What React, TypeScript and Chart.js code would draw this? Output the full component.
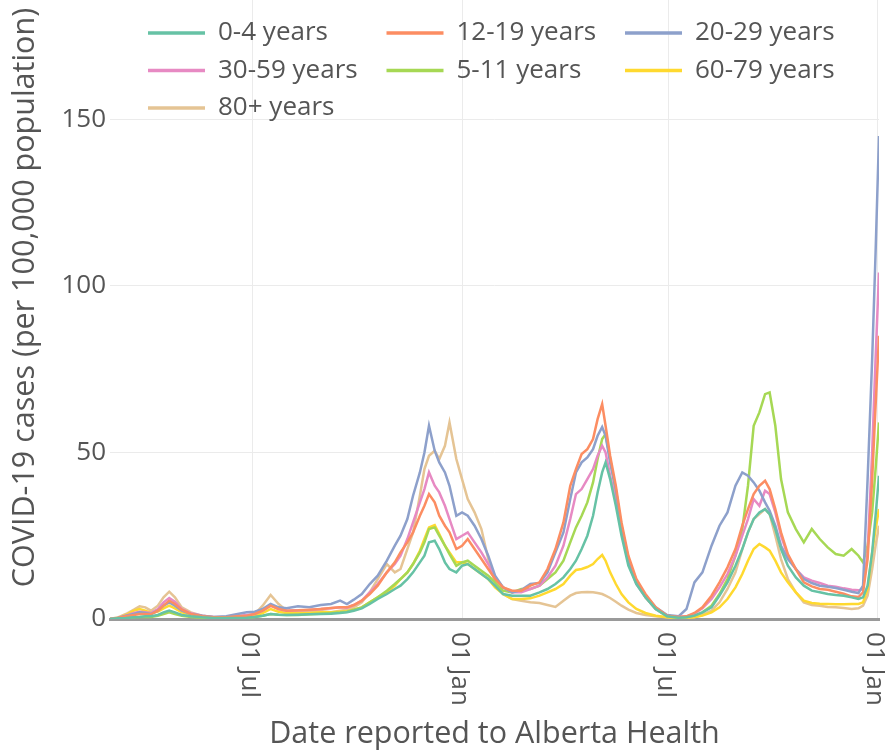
import React, { useEffect, useRef } from 'react';
import { Chart, registerables } from 'chart.js';

Chart.register(...registerables);

const FONT = '"Open Sans", sans-serif';
const TEXT_COLOR = '#555555';

const dates = [
  '2020-02-27', '2020-03-05', '2020-03-12', '2020-03-19', '2020-03-24', '2020-03-29', '2020-04-03', '2020-04-09',
  '2020-04-14', '2020-04-19', '2020-04-24', '2020-04-30', '2020-05-08', '2020-05-18', '2020-05-28', '2020-06-08',
  '2020-06-18', '2020-06-26', '2020-07-03', '2020-07-10', '2020-07-17', '2020-07-24', '2020-07-31', '2020-08-10',
  '2020-08-20', '2020-08-30', '2020-09-08', '2020-09-16', '2020-09-22', '2020-09-28', '2020-10-05', '2020-10-12',
  '2020-10-19', '2020-10-27', '2020-11-03', '2020-11-08', '2020-11-14', '2020-11-19', '2020-11-25', '2020-11-29',
  '2020-12-03', '2020-12-08', '2020-12-12', '2020-12-17', '2020-12-21', '2020-12-27', '2021-01-01', '2021-01-06',
  '2021-01-12', '2021-01-18', '2021-01-24', '2021-01-30', '2021-02-06', '2021-02-14', '2021-02-22', '2021-03-02',
  '2021-03-10', '2021-03-17', '2021-03-24', '2021-03-31', '2021-04-06', '2021-04-11', '2021-04-16', '2021-04-21',
  '2021-04-26', '2021-04-30', '2021-05-04', '2021-05-07', '2021-05-11', '2021-05-16', '2021-05-21', '2021-05-27',
  '2021-06-03', '2021-06-11', '2021-06-20', '2021-06-30', '2021-07-10', '2021-07-17', '2021-07-24', '2021-07-31',
  '2021-08-08', '2021-08-15', '2021-08-22', '2021-08-29', '2021-09-04', '2021-09-09', '2021-09-14', '2021-09-19',
  '2021-09-24', '2021-09-28', '2021-10-03', '2021-10-08', '2021-10-14', '2021-10-21', '2021-10-28', '2021-11-04',
  '2021-11-11', '2021-11-18', '2021-11-25', '2021-12-02', '2021-12-09', '2021-12-15', '2021-12-19', '2021-12-23',
  '2021-12-27', '2021-12-30', '2022-01-02',
];

const age0to4 = [
  0, 0.2, 0.3, 0.5, 0.6, 0.8, 0.8, 1.2, 2, 2.5, 2, 1.2, 0.8, 0.5, 0.3, 0.3,
  0.3, 0.4, 0.6, 1, 1.5, 1.3, 1.2, 1.3, 1.4, 1.5, 1.6, 1.8, 2, 2.5, 3.2, 4.5,
  6, 7.5, 9, 10, 12, 14, 17, 19, 23, 23.5, 21, 17, 15, 14, 16, 16.5,
  15, 13.5, 12, 10, 7.5, 7, 7, 7, 8, 9, 10.5, 12.5, 15, 17.5, 21, 25,
  31, 38, 44, 47, 42, 34, 25, 16, 10.5, 6.5, 3, 0.8, 0.4, 0.5, 1, 2,
  3.5, 7, 11, 16, 21, 26, 30, 32, 33, 31.5, 27, 21, 16, 12.5, 10, 8.5,
  8, 7.5, 7.2, 7, 6.5, 6, 6.5, 10, 20, 31, 43,
];

const age12to19 = [
  0, 0.3, 0.8, 1.2, 1.5, 1.5, 1.4, 2.5, 4, 5.5, 4.5, 2.8, 1.5, 0.8, 0.5, 0.5,
  0.8, 1, 1.5, 2.5, 4, 3, 2.5, 2.6, 2.8, 3, 3.3, 3.5, 3.5, 4.2, 5.5, 7.5,
  10, 14, 17, 20, 23, 26, 31, 34, 37.5, 35, 31, 28, 26, 21, 22, 24,
  21, 18, 15, 12, 9.5, 8.5, 8.5, 10, 11, 15, 21, 29, 40, 45, 49.5, 51,
  54, 60, 64.5, 58, 49, 40, 29, 19, 12, 7.5, 3.5, 1, 0.6, 0.8, 1.8, 3.5,
  7, 11, 15.5, 21, 28, 33, 37.5, 40, 41.5, 39, 33, 26, 19.5, 15, 11, 9.8,
  9, 8.8, 8.2, 7.6, 6.8, 6.6, 8, 18, 42, 64, 85,
];

const age20to29 = [
  0, 0.3, 1, 1.5, 2, 1.8, 1.5, 2.5, 4, 5, 4, 2.5, 1.5, 1, 0.6, 0.8,
  1.5, 2, 2.2, 3, 4.5, 3.5, 3.2, 3.8, 3.5, 4.2, 4.5, 5.5, 4.5, 5.8, 7.5, 10.5,
  13, 17.5, 22, 25, 30, 37, 44, 50, 58, 50.5, 47, 44, 40, 31, 32, 31,
  28, 24, 19, 13, 9.5, 8, 8.7, 10.5, 10.8, 14, 20, 26, 36, 44, 47, 48.5,
  51, 55, 57.6, 55, 47, 39, 27, 17, 11, 7, 3.5, 1.2, 0.8, 3, 11, 14,
  22, 28, 32, 40, 44, 43, 41, 38.5, 35, 32.5, 28, 22, 18, 15, 12, 10.8,
  10, 9.7, 9.3, 8.8, 8.2, 7.8, 10, 42, 78, 110, 145,
];

const age30to59 = [
  0, 0.3, 1, 1.8, 2.2, 2, 1.8, 3, 5, 6.3, 5.2, 3, 1.7, 1, 0.6, 0.6,
  0.9, 1.2, 1.5, 2.5, 4, 3, 2.5, 2.6, 2.7, 3, 3.2, 3.5, 3.4, 4.2, 5.5, 8,
  10.5, 14, 16.5, 19, 24, 29, 35, 39, 44, 40, 38, 34, 30, 24, 25, 26,
  23, 20, 16.5, 12.5, 9.5, 8, 8, 9, 10, 12.5, 16, 22, 30, 37.5, 39, 42,
  45, 49, 52, 50, 43, 36, 26, 17, 10.5, 6.5, 3, 1, 0.6, 0.8, 1.6, 3.2,
  6, 9.5, 13.5, 19, 25, 30, 36, 34, 38.5, 37.5, 32, 25, 19, 15, 12.5, 11.5,
  10.8, 10, 9.7, 9.2, 8.8, 8.6, 9, 20, 50, 78, 104,
];

const age5to11 = [
  0, 0.2, 0.3, 0.5, 0.6, 0.7, 0.6, 1, 1.5, 2, 1.5, 1, 0.6, 0.4, 0.3, 0.3,
  0.3, 0.4, 0.6, 1, 1.5, 1.3, 1.2, 1.2, 1.4, 1.6, 1.8, 2, 2.2, 2.8, 3.5, 5,
  6.5, 8.5, 10.5, 12, 14, 16.5, 20, 23, 27, 27.5, 25, 22, 19.5, 16, 17, 17.5,
  16, 14.5, 13, 11, 8.5, 8, 9, 9, 10, 12, 14, 17.5, 23, 27.5, 31, 35,
  41, 48, 54, 55.5, 48, 38, 28, 18, 11.5, 6.5, 3, 0.8, 0.4, 0.5, 1, 2,
  4, 7.5, 12, 19, 27, 40, 58, 62, 67.5, 68, 58, 42, 32, 27, 23, 27,
  24, 21.5, 19.5, 19, 21, 19, 17, 22, 32, 45, 59,
];

const age60to79 = [
  0, 0.3, 1.2, 2.5, 3, 2.5, 1.8, 2.2, 3.2, 4, 3.2, 2, 1.2, 0.7, 0.4, 0.4,
  0.5, 0.6, 1, 1.8, 3, 2.2, 1.8, 1.8, 1.8, 2, 2, 2.2, 2.3, 2.8, 3.5, 5,
  6.5, 8, 10, 12, 14, 16.5, 20.5, 24, 27.5, 28.2, 25.5, 22, 20, 17, 17, 16.5,
  15, 13.5, 12, 9.5, 7.5, 6, 6, 6.2, 7, 8, 9, 10.5, 13, 14.7, 15, 15.6,
  16.5, 18, 19.2, 17.5, 14, 10.5, 7.5, 5, 3, 1.8, 1, 0.5, 0.3, 0.4, 0.5, 1,
  2, 3.5, 6, 9.5, 13.5, 17.5, 21, 22.5, 21.5, 20.5, 17.5, 14, 11, 8, 5.5, 4.8,
  4.6, 4.5, 4.4, 4.4, 4.5, 4.5, 5, 9, 20, 27, 33,
];

const age80plus = [
  0, 0.5, 1.5, 2.8, 3.8, 3.5, 2.5, 4, 6.5, 8.2, 6.5, 3.5, 2, 1, 0.5, 0.4,
  0.6, 0.8, 1.5, 4, 7.2, 4.5, 2.5, 2, 2.2, 2.4, 2, 2.5, 2.8, 3.5, 5, 8,
  12, 16.5, 14, 15, 21, 26, 37, 45, 49, 50.5, 48, 52, 59, 48, 42, 36,
  32, 27, 18, 11, 7.5, 6, 5.5, 5, 4.8, 4.2, 3.6, 5.5, 7, 7.8, 8, 8.1,
  8, 7.8, 7.5, 7, 6.3, 5.2, 4, 2.8, 1.8, 1.2, 0.8, 0.5, 0.3, 0.4, 0.6, 1.2,
  2.5, 5, 9, 14, 21, 26, 30, 31.5, 33, 31.5, 25, 18, 12, 8, 5, 4.2,
  4, 3.6, 3.5, 3.3, 3, 3.2, 4, 7, 15, 22, 28,
];

const seriesLabels = ['0-4 years', '12-19 years', '20-29 years', '30-59 years', '5-11 years', '60-79 years', '80+ years'];
const seriesValues = [age0to4, age12to19, age20to29, age30to59, age5to11, age60to79, age80plus];
const seriesColors = ['#66c2a5', '#fc8d62', '#8da0cb', '#e78ac3', '#a6d854', '#ffd92f', '#e5c494'];

const xTickDates = ['2020-07-01', '2021-01-01', '2021-07-01', '2022-01-01'];
const xTickLabels = ['01 Jul', '01 Jan', '01 Jul', '01 Jan'];
const yTicks = [0, 50, 100, 150];
const yMax = 193;

const xTitle = 'Date reported to Alberta Health';
const yTitle = 'COVID-19 cases (per 100,000 population)';

const toMs = (d: string) => Date.parse(d + 'T00:00:00Z');

const overlayPlugin = {
  id: 'overlayPlugin',
  afterDraw(chart: any) {
    const { ctx, chartArea } = chart;
    const xScale = chart.scales.x;
    ctx.save();
    // rotated x tick labels (clockwise)
    ctx.font = `26px ${FONT}`;
    ctx.fillStyle = TEXT_COLOR;
    ctx.textAlign = 'left';
    ctx.textBaseline = 'middle';
    xTickDates.forEach((d, i) => {
      const x = xScale.getPixelForValue(toMs(d));
      ctx.save();
      ctx.translate(x - 3, chartArea.bottom + 13);
      ctx.rotate(Math.PI / 2);
      ctx.fillText(xTickLabels[i], 0, 0);
      ctx.restore();
    });
    // legend in a 3-column grid inside the plot
    chart.data.datasets.forEach((ds: any, i: number) => {
      const col = i % 3;
      const row = Math.floor(i / 3);
      const x0 = chartArea.left + 38 + col * 238.5;
      const y = chartArea.top + 57 + row * 37.5;
      ctx.strokeStyle = ds.borderColor;
      ctx.lineWidth = 3.5;
      ctx.beginPath();
      ctx.moveTo(x0, y);
      ctx.lineTo(x0 + 57, y);
      ctx.stroke();
      ctx.fillStyle = TEXT_COLOR;
      ctx.fillText(ds.label, x0 + 70, y);
    });
    ctx.restore();
  },
};

export default function App() {
  const canvasRef = useRef<HTMLCanvasElement | null>(null);

  useEffect(() => {
    const canvas = canvasRef.current;
    if (!canvas) return;
    const chart = new Chart(canvas, {
      type: 'line',
      data: {
        datasets: seriesValues.map((vals, i) => ({
          label: seriesLabels[i],
          data: dates.map((d, j) => ({ x: toMs(d), y: vals[j] })),
          borderColor: seriesColors[i],
          backgroundColor: seriesColors[i],
          borderWidth: 2.5,
          pointRadius: 0,
          tension: 0,
          fill: false,
        })),
      },
      options: {
        responsive: false,
        animation: false,
        devicePixelRatio: 1,
        layout: { padding: { left: 0, right: 6, top: 0, bottom: 0 } },
        plugins: { legend: { display: false }, tooltip: { enabled: false } },
        scales: {
          x: {
            type: 'linear',
            min: toMs(dates[0]),
            max: toMs(dates[dates.length - 1]),
            afterBuildTicks: (s: any) => {
              s.ticks = xTickDates.map((d) => ({ value: toMs(d) }));
            },
            ticks: { display: false },
            grid: { color: '#ebebeb', lineWidth: 1, drawTicks: false },
            border: { display: true, color: '#9a9a9a', width: 3 },
            title: {
              display: true,
              text: xTitle,
              color: TEXT_COLOR,
              font: { family: FONT, size: 30.5 },
              padding: { top: 0, bottom: 0 },
            },
            afterFit: (s: any) => {
              s.height = 134;
              s.paddingLeft = 0;
              s.paddingRight = 0;
            },
          },
          y: {
            type: 'linear',
            min: 0,
            max: yMax,
            afterBuildTicks: (s: any) => {
              s.ticks = yTicks.map((v) => ({ value: v }));
            },
            ticks: { color: TEXT_COLOR, font: { family: FONT, size: 26 }, padding: 4 },
            grid: { color: '#ebebeb', lineWidth: 1, drawTicks: false },
            border: { display: false },
            title: {
              display: true,
              text: yTitle,
              color: TEXT_COLOR,
              font: { family: FONT, size: 30.5 },
              padding: { top: 7, bottom: 0 },
            },
            afterFit: (s: any) => {
              s.width = 110;
              s.paddingTop = 0;
              s.paddingBottom = 0;
            },
          },
        },
      },
      plugins: [overlayPlugin],
    } as any);
    return () => chart.destroy();
  }, []);

  return (
    <div style={{ position: 'absolute', top: -24, left: 0, width: 885, height: 777 }}>
      <canvas ref={canvasRef} width={885} height={777} style={{ width: 885, height: 777, display: 'block' }} />
    </div>
  );
}
